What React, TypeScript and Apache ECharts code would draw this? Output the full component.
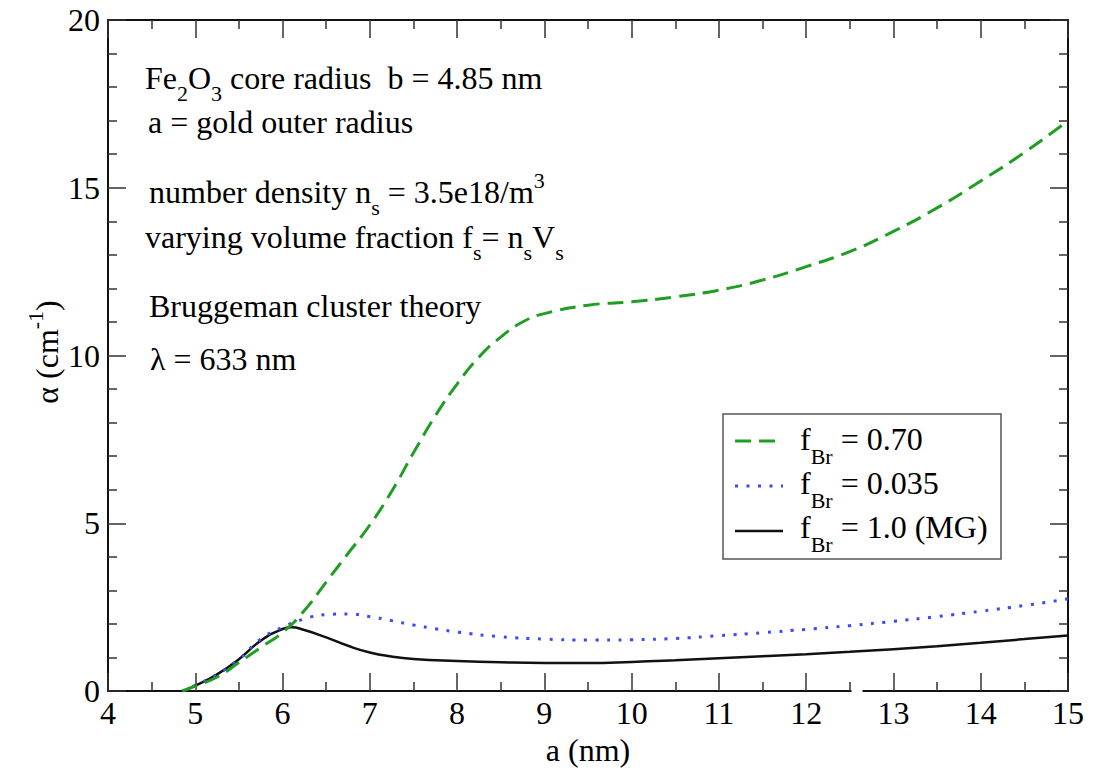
import { useEffect, useRef } from "react";
import * as echarts from "echarts";

const SERIF = '"Liberation Serif", "Times New Roman", serif';

// Outer gold radius a (nm) and absorption coefficient alpha (1/cm) for each model
const aGreen = [4.85, 5.0, 5.25, 5.5, 5.75, 6.0, 6.25, 6.5, 6.75, 7.0, 7.25, 7.5, 7.75, 8.0, 8.25, 8.5, 8.75, 9.0, 9.5, 10.0, 10.5, 11.0, 11.5, 12.0, 12.5, 13.0, 13.5, 14.0, 14.5, 15.0];
const alphaGreen = [0, 0.15, 0.42, 0.85, 1.3, 1.75, 2.4, 3.25, 4.1, 4.95, 5.95, 7.1, 8.2, 9.15, 9.95, 10.55, 11.0, 11.25, 11.5, 11.6, 11.75, 11.95, 12.25, 12.65, 13.1, 13.7, 14.4, 15.2, 16.05, 17.0];

const aBlue = [4.85, 5.0, 5.25, 5.5, 5.75, 6.0, 6.25, 6.5, 6.75, 7.0, 7.25, 7.5, 7.75, 8.0, 8.5, 9.0, 9.5, 10.0, 10.5, 11.0, 11.5, 12.0, 12.5, 13.0, 13.5, 14.0, 14.5, 15.0];
const alphaBlue = [0, 0.17, 0.5, 0.95, 1.55, 1.9, 2.15, 2.28, 2.3, 2.22, 2.1, 1.97, 1.86, 1.76, 1.62, 1.55, 1.52, 1.53, 1.57, 1.65, 1.74, 1.84, 1.95, 2.08, 2.22, 2.38, 2.55, 2.75];

const aBlack = [4.85, 5.0, 5.25, 5.5, 5.75, 6.0, 6.1, 6.25, 6.5, 6.75, 7.0, 7.25, 7.5, 8.0, 8.5, 9.0, 9.5, 10.0, 10.5, 11.0, 11.5, 12.0, 12.5, 13.0, 13.5, 14.0, 14.5, 15.0];
const alphaBlack = [0, 0.16, 0.5, 0.95, 1.5, 1.85, 1.9, 1.82, 1.6, 1.35, 1.15, 1.03, 0.96, 0.9, 0.86, 0.84, 0.84, 0.87, 0.92, 0.98, 1.04, 1.1, 1.17, 1.25, 1.34, 1.44, 1.55, 1.66];

const legendLabels = ["f{sub|Br} = 0.70", "f{sub|Br} = 0.035", "f{sub|Br} = 1.0 (MG)"];
const noteLines = [
  "Fe{sub|2}O{sub|3} core radius  b = 4.85 nm",
  "a = gold outer radius",
  "number density n{sub|s} = 3.5e18/m{sup|3}",
  "varying volume fraction f{sub|s}= n{sub|s}V{sub|s}",
  "Bruggeman cluster theory",
  "λ = 633 nm",
];

const GREEN = "#1f9e23";
const BLUE = "#3a48ff";
const BLACK = "#111111";

const pairs = (xs: number[], ys: number[]) => xs.map((x, i) => [x, ys[i]]);

const richNote = {
  sub: { fontSize: 22, fontFamily: SERIF, fill: "#000", padding: [30, 0, 0, 0] },
  sup: { fontSize: 22, fontFamily: SERIF, fill: "#000", padding: [0, 0, 24, 0] },
};
const richLegend = {
  sub: { fontSize: 22, fontFamily: SERIF, fill: "#000", padding: [34, 0, 0, 0] },
};

export default function App() {
  const ref = useRef<HTMLDivElement>(null);

  useEffect(() => {
    if (!ref.current) return;
    const chart = echarts.init(ref.current, undefined, { renderer: "svg" });

    const axisCommon = {
      axisLine: { show: true, onZero: false, lineStyle: { color: "#111", width: 2 } },
      axisTick: { show: true, inside: true, length: 18, lineStyle: { color: "#333", width: 1.5 } },
      minorTick: { show: true, length: 9, lineStyle: { color: "#333", width: 1.5 } },
      splitLine: { show: false },
      minorSplitLine: { show: false },
    };
    const labelStyle = { fontSize: 32, fontFamily: SERIF, color: "#000" };

    const noteMiddles = [78, 122, 192, 237, 306, 359];
    const noteX = [145, 148, 149, 145, 149, 150];
    const legendMiddles = [439, 483, 527];
    const legendLineY = [441, 486, 531];
    const legendStyles = [
      { stroke: GREEN, lineWidth: 3, lineDash: [16, 8] },
      { stroke: BLUE, lineWidth: 3, lineDash: [3, 8.5] },
      { stroke: BLACK, lineWidth: 2.5 },
    ];

    const graphics: any[] = [
      // gap in the bottom axis line
      { type: "rect", z: 100, shape: { x: 851.5, y: 690, width: 11, height: 8 }, style: { fill: "#fff" } },
      ...noteLines.map((t, i) => ({
        type: "text",
        z: 100,
        x: noteX[i],
        y: noteMiddles[i],
        style: { text: t, fontSize: 32, fontFamily: SERIF, fill: "#000", align: "left", verticalAlign: "middle", rich: richNote },
      })),
      // y axis title
      {
        type: "text",
        z: 100,
        x: 47,
        y: 352,
        rotation: Math.PI / 2,
        style: {
          text: "α (cm{sup|-1})",
          fontSize: 32,
          fontFamily: SERIF,
          fill: "#000",
          align: "center",
          verticalAlign: "middle",
          rich: richNote,
        },
      },
      // legend box
      { type: "rect", z: 100, shape: { x: 723, y: 414, width: 278, height: 145 }, style: { fill: "#fff", stroke: "#555", lineWidth: 1.5 } },
      ...legendLabels.map((t, i) => ({
        type: "line",
        z: 101,
        shape: { x1: 735, y1: legendLineY[i], x2: 783, y2: legendLineY[i] },
        style: legendStyles[i],
      })),
      ...legendLabels.map((t, i) => ({
        type: "text",
        z: 101,
        x: 800,
        y: legendMiddles[i],
        style: { text: t, fontSize: 32, fontFamily: SERIF, fill: "#000", align: "left", verticalAlign: "middle", rich: richLegend },
      })),
    ];

    const lineCommon = { type: "line", showSymbol: false, smooth: 0.5 };

    chart.setOption({
      animation: false,
      backgroundColor: "#fff",
      grid: { left: 108, right: 25, top: 20, bottom: 77, containLabel: false },
      xAxis: [
        {
          type: "value",
          position: "bottom",
          min: 4,
          max: 15,
          interval: 1,
          ...axisCommon,
          minorTick: { ...axisCommon.minorTick, splitNumber: 2 },
          axisLabel: { ...labelStyle, margin: 6 },
          name: "a (nm)",
          nameLocation: "middle",
          nameGap: 36,
          nameTextStyle: { fontSize: 32, fontFamily: SERIF, color: "#000" },
        },
        {
          type: "value",
          position: "top",
          min: 4,
          max: 15,
          interval: 1,
          ...axisCommon,
          minorTick: { ...axisCommon.minorTick, splitNumber: 2 },
          axisLabel: { show: false },
        },
      ],
      yAxis: [
        {
          type: "value",
          position: "left",
          min: 0,
          max: 20,
          interval: 5,
          ...axisCommon,
          minorTick: { ...axisCommon.minorTick, splitNumber: 5 },
          axisLabel: { ...labelStyle, margin: 8 },
        },
        {
          type: "value",
          position: "right",
          min: 0,
          max: 20,
          interval: 5,
          ...axisCommon,
          minorTick: { ...axisCommon.minorTick, splitNumber: 5 },
          axisLabel: { show: false },
        },
      ],
      series: [
        {
          ...lineCommon,
          name: "f_Br = 1.0 (MG)",
          data: pairs(aBlack, alphaBlack),
          lineStyle: { color: BLACK, width: 2.5 },
        },
        {
          ...lineCommon,
          name: "f_Br = 0.035",
          data: pairs(aBlue, alphaBlue),
          lineStyle: { color: BLUE, width: 3, type: [3, 8.5] },
        },
        {
          ...lineCommon,
          name: "f_Br = 0.70",
          data: pairs(aGreen, alphaGreen),
          lineStyle: { color: GREEN, width: 3, type: [16, 8] },
        },
      ],
      graphic: graphics,
    });

    return () => chart.dispose();
  }, []);

  return (
    <div
      ref={ref}
      style={{ position: "fixed", left: 0, top: 0, width: 1093, height: 771, background: "#fff" }}
    />
  );
}
